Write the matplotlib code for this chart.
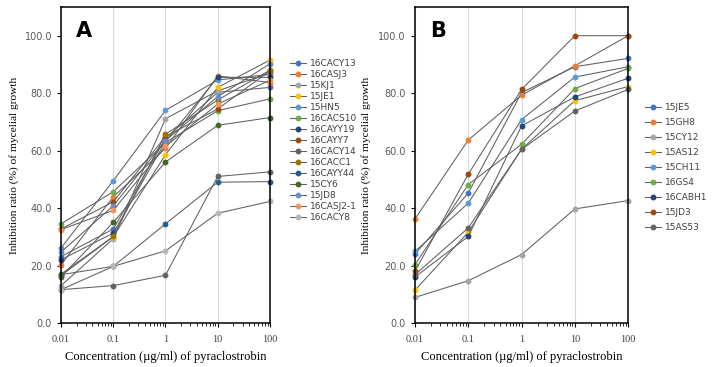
import matplotlib
matplotlib.use("Agg")
from matplotlib import pyplot as plt
from matplotlib.ticker import LogLocator, FixedLocator, NullFormatter

conc = [0.01, 0.1, 1, 10, 100]
conc_labels = ["0.01", "0.1", "1", "10", "100"]
yticks = [0, 20, 40, 60, 80, 100]

names_a = ["16CACY13", "16CASJ3", "15KJ1", "15JE1", "15HN5", "16CACS10", "16CAYY19",
           "16CAYY7", "16CACY14", "16CACC1", "16CAYY44", "15CY6", "15JD8", "16CASJ2-1", "16CACY8"]
values_a = [
    [23.1, 32.7, 64.3, 80.3, 82.0],
    [20.3, 43.9, 60.8, 86.0, 83.7],
    [13.0, 29.3, 71.1, 80.8, 87.0],
    [16.5, 30.0, 58.6, 82.0, 91.5],
    [26.1, 49.5, 74.0, 84.6, 86.5],
    [34.5, 45.7, 62.8, 73.9, 78.0],
    [22.0, 31.3, 63.2, 85.5, 85.5],
    [32.7, 42.2, 64.9, 74.5, 87.8],
    [11.6, 13.0, 16.6, 51.0, 52.6],
    [17.0, 30.1, 65.7, 77.6, 88.0],
    [16.8, 19.7, 34.5, 49.0, 49.2],
    [16.1, 35.0, 56.0, 68.8, 71.5],
    [24.7, 40.8, 63.5, 78.8, 90.2],
    [32.5, 39.2, 61.5, 76.2, 84.5],
    [11.6, 19.7, 25.1, 38.2, 42.3],
]

names_b = ["15JE5", "15GH8", "15CY12", "15AS12", "15CH11", "16GS4", "16CABH1", "15JD3", "15AS53"]
values_b = [
    [24.0, 45.2, 80.2, 89.2, 92.1],
    [36.2, 63.7, 79.3, 89.5, 100.0],
    [8.9, 14.7, 23.8, 39.7, 42.6],
    [11.4, 31.6, 60.5, 77.4, 82.3],
    [24.9, 41.7, 70.8, 85.6, 89.2],
    [20.3, 48.2, 62.2, 81.6, 88.6],
    [16.0, 30.1, 68.6, 78.7, 85.2],
    [18.0, 51.8, 81.3, 100.0, 100.0],
    [16.8, 33.1, 60.4, 73.8, 81.3],
]

colors = ["#4472C4", "#ED7D31", "#A5A5A5", "#FFC000", "#5B9BD5", "#70AD47", "#264478",
          "#9E480E", "#636363", "#997300", "#255E91", "#43682B", "#698ED0", "#F1975A", "#B7B7B7"]

serif = ["Liberation Serif", "DejaVu Serif"]
fig = plt.figure(figsize=(7.13, 3.67), dpi=100)


def panel(rect, names, values, letter, leg_anchor, leg_space, ylab_x):
    ax = fig.add_axes(rect)
    for i, (n, v) in enumerate(zip(names, values)):
        ax.plot(conc, v, color="#5f5f5f", lw=0.75, marker="o", ms=3.2,
                mfc=colors[i], mec=colors[i], label=n, clip_on=False, zorder=3)
    ax.set_xscale("log")
    ax.set_xlim(0.01, 100)
    ax.set_ylim(0, 110)
    ax.xaxis.set_major_locator(FixedLocator(conc))
    ax.xaxis.set_minor_locator(LogLocator(base=10, subs=range(2, 10)))
    ax.xaxis.set_minor_formatter(NullFormatter())
    ax.set_xticklabels(conc_labels, fontfamily=serif, fontsize=7.5, color="#404040")
    ax.set_yticks(yticks)
    ax.set_yticklabels([f"{t:.1f}" for t in yticks], fontsize=7, color="#595959")
    ax.tick_params(axis="x", which="major", length=3, width=0.8, pad=6)
    ax.tick_params(axis="x", which="minor", length=2, width=0.6)
    ax.tick_params(axis="y", length=3, width=0.8)
    ax.grid(axis="x", which="major", color="#D9D9D9", lw=0.8)
    ax.set_axisbelow(True)
    for s in ax.spines.values():
        s.set_linewidth(1.1)
        s.set_zorder(4)
    ax.text(0.07, 0.955, letter, transform=ax.transAxes, fontsize=15,
            fontweight="bold", va="top", ha="left")
    ax.set_xlabel("Concentration (\u00b5g/ml) of pyraclostrobin", fontfamily=serif,
                  fontsize=9, labelpad=5)
    fig.text(ylab_x, 0.55, "Inhibition ratio (%) of mycelial growth", rotation=90,
             fontfamily=serif, fontsize=8.2, ha="center", va="center")
    ax.legend(loc="upper left", bbox_to_anchor=leg_anchor, bbox_transform=fig.transFigure,
              frameon=False, fontsize=6.5, handlelength=1.8, labelspacing=leg_space,
              labelcolor="#404040", handletextpad=0.4, borderaxespad=0)
    return ax


panel([0.0856, 0.12, 0.293, 0.861], names_a, values_a, "A", (0.402, 0.848), 0.22, 0.019)
panel([0.582, 0.12, 0.299, 0.861], names_b, values_b, "B", (0.899, 0.728), 0.66, 0.513)

fig.savefig("out.png", dpi=100)
